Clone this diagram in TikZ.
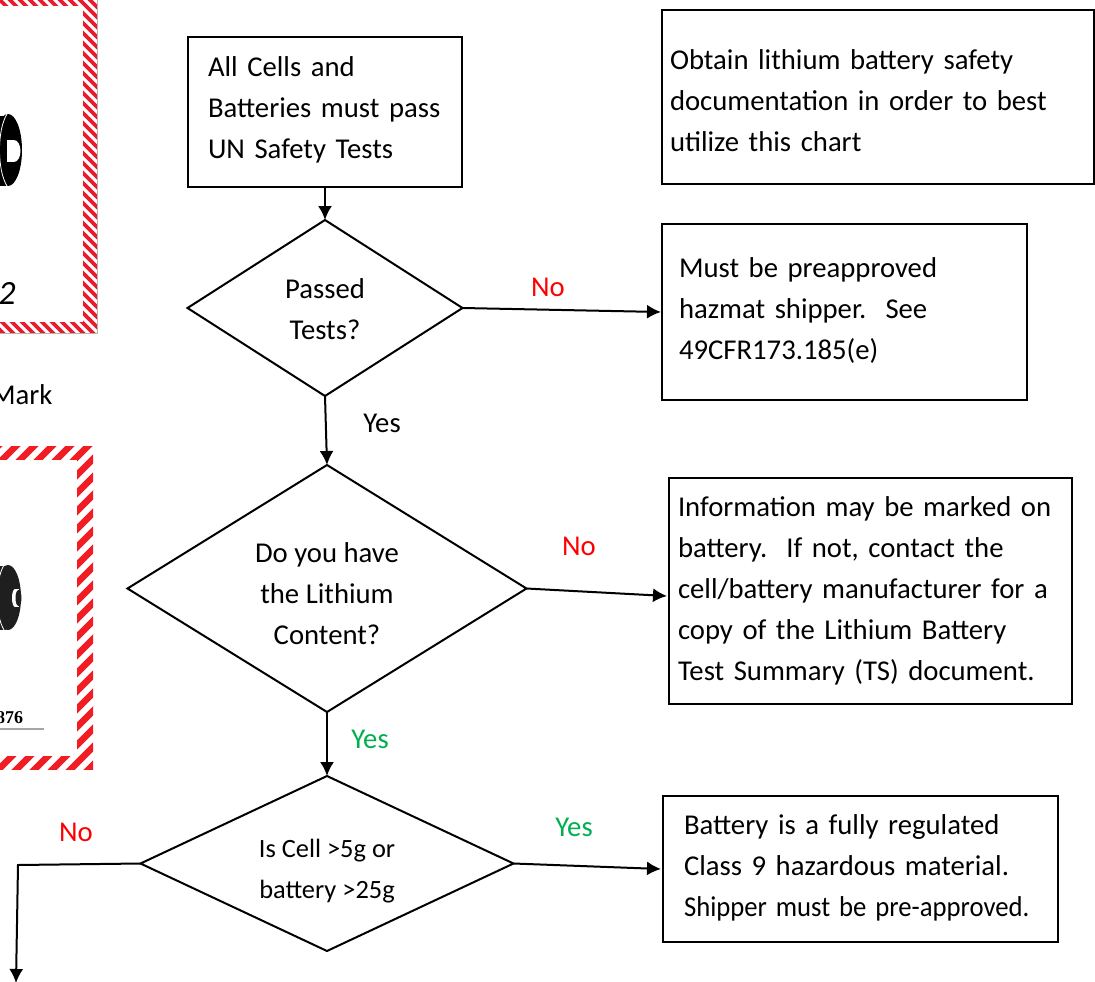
\documentclass[tikz,border=0pt]{standalone}
\usepackage{fontspec}
\setmainfont{Carlito}
\newfontfamily\numfont{Liberation Serif}
\usetikzlibrary{shapes.geometric,arrows.meta,calc}
\definecolor{lblred}{RGB}{255,0,0}
\definecolor{lblgreen}{RGB}{0,176,80}
\definecolor{stripered}{RGB}{232,28,44}
\definecolor{stripered2}{RGB}{240,30,36}
\newcommand{\shup}[1]{\rule[-#1pt]{0pt}{#1pt}}
\newcommand{\shdn}[1]{\rule{0pt}{#1pt}}
\tikzset{
  x=1pt,y=-1pt,
  every node/.style={font=\fontsize{28.7}{41}\selectfont,text=black,outer sep=0pt},
  flowbox/.style={draw=black,line width=2pt,rectangle,align=left,anchor=north west,inner ysep=0pt},
  decision/.style={draw=black,line width=2pt,diamond,align=center,inner sep=0pt},
  flow/.style={draw=black,line width=2pt,-{Latex[length=14pt,width=14pt]}},
  lbl/.style={inner sep=0pt}
}
\begin{document}
\begin{tikzpicture}
\useasboundingbox (0,0) rectangle (1095,982);
% frame 1
\begin{scope}
  \clip (-10,-10) rectangle (97,333);
  \foreach \k in {-50,...,60}{
    \draw[stripered,line width=3.6pt] (-20,\k*10) -- (120,\k*10+140);
  }
\end{scope}
\fill[white] (-10,6) rectangle (83,322);
\draw[black!30,line width=0.8pt] (97,0) -- (97,333) -- (0,333);
% battery 1
\fill[black] (-6,116) rectangle (6,186);
\fill[black] (8,150) ellipse[x radius=14,y radius=36];
\draw[white,line width=0.8pt] (7,114) .. controls (-3,130) and (-3,170) .. (7,186);
\fill[white] (14,151) ellipse[x radius=6.5,y radius=11];
\fill[white] (7,140) rectangle (14,162);
\node[lbl,font=\fontsize{34}{34}\selectfont\itshape] (two) at (7,293) {2};
\node[lbl,anchor=west] (mark) at (-9,395) {Mark};
% frame 2
\begin{scope}
  \clip (-10,446) rectangle (93,769);
  \foreach \k in {-20,...,60}{
    \draw[stripered2,line width=6.4pt] (-20,\k*18+140) -- (120,\k*18);
  }
\end{scope}
\fill[white] (-10,460) rectangle (77,756);
% battery 2
\fill[black!88] (-6,566) rectangle (6,630);
\fill[black!88] (8,597.5) ellipse[x radius=13,y radius=32.5];
\draw[white,line width=0.8pt] (4,565) .. controls (-5,580) and (-5,615) .. (4,630);
\fill[white] (15,589) rectangle (19,607);
\fill[white] (15,598) ellipse[x radius=3,y radius=9];
\fill[black!88] (18.5,598) ellipse[x radius=3,y radius=8];
\node[lbl,font=\fontsize{18}{18}\numfont\bfseries,anchor=east] (num) at (23,718) {876};
\draw[black!35,line width=1.2pt] (0,729) -- (44,729);

% boxes
\node[flowbox,minimum width=274pt,minimum height=150pt,text width=234pt,inner xsep=20pt] (A) at (188,37)
  {All Cells and\\Batteries must pass\\UN Safety Tests\shup{8}};
\node[flowbox,minimum width=432pt,minimum height=174pt,text width=416pt,inner xsep=8pt] (B) at (662,10)
  {\shdn{28}Obtain lithium battery safety\\documentation in order to best\\utilize this chart};
\node[flowbox,minimum width=365pt,minimum height=176pt,text width=331pt,inner xsep=17pt] (C) at (662,224)
  {Must be preapproved\\hazmat shipper.\ \ See\\49CFR173.185(e)\shup{6}};
\node[flowbox,minimum width=403pt,minimum height=226pt,text width=385pt,inner xsep=9pt] (D) at (669,478)
  {Information may be marked on\\battery.\ \ If not, contact the\\cell/battery manufacturer for a\\copy of the Lithium Battery\\Test Summary (TS) document.\shup{4}};
\node[flowbox,minimum width=395pt,minimum height=146pt,text width=353pt,inner xsep=21pt] (E) at (663,796)
  {Battery is a fully regulated\\Class 9 hazardous material.\\\scalebox{0.93}[1]{Shipper must be pre-approved.}\shup{6}};

% decisions
\node[decision,minimum width=275pt,minimum height=176pt,shape aspect=1.5625] (D1) at (325,308) {\rule{0pt}{22pt}Passed\\Tests?};
\node[decision,minimum width=399pt,minimum height=247pt,shape aspect=1.615] (D2) at (327,588.5) {\rule{0pt}{30pt}Do you have\\the Lithium\\Content?};
\node[decision,minimum width=373pt,minimum height=175pt,shape aspect=2.13,font=\fontsize{26.4}{41}\selectfont] (D3) at (327,863.5) {\rule{0pt}{34pt}Is Cell >5g or\\battery >25g};

% connectors
\coordinate (Dentry) at ($(D.west)+(-2,5)$);
\coordinate (Cbend) at (18,865);
\coordinate (Cend) at (16,983);
\draw[flow] (A.south) -- (D1.north);
\draw[flow] (D1.east) -- ($(C.west)+(-1,0)$);
\draw[flow] (D1.south) -- (D2.north);
\draw[flow] (D2.east) -- (Dentry);
\draw[flow] (D2.south) -- (D3.north);
\draw[flow] (D3.east) -- ($(E.west)+(-2,0)$);
\draw[flow] (D3.west) -- (Cbend) -- (Cend);

% labels
\node[lbl,text=lblred] (l1) at (548,287) {No};
\node[lbl] (l2) at (382,423) {Yes};
\node[lbl,text=lblred] (l3) at (579,546) {No};
\node[lbl,text=lblgreen] (l4) at (370,739) {Yes};
\node[lbl,text=lblred] (l5) at (76,832) {No};
\node[lbl,text=lblgreen] (l6) at (574,827) {Yes};
\end{tikzpicture}
\end{document}
